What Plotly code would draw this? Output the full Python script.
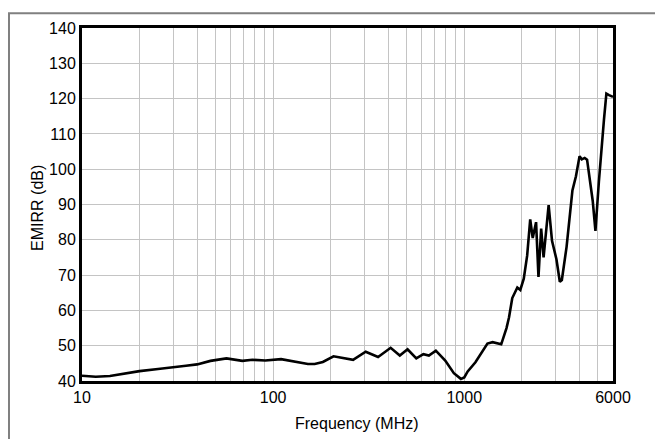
import plotly.graph_objects as go
import math

freq_mhz = [10, 11.8, 14, 16.9, 20, 25, 30, 35, 40, 47, 57, 64, 69, 78, 91, 110, 130, 152, 165, 182,
            207, 244, 262, 305, 354, 412, 460, 505, 561, 611, 653, 710, 795, 882, 960, 1000, 1042,
            1144, 1268, 1322, 1407, 1466, 1561, 1663, 1714, 1783, 1895, 1964, 2048, 2133, 2213,
            2281, 2375, 2445, 2525, 2600, 2763, 2878, 3035, 3162, 3240, 3430, 3680, 3840, 4010,
            4120, 4265, 4390, 4570, 4700, 4856, 5060, 5380, 5540, 5720, 6000]
emirr_db = [41.5, 41.2, 41.4, 42.2, 42.8, 43.4, 44.0, 44.3, 44.7, 45.7, 46.4, 46.1, 45.7, 46.0, 45.8,
            46.2, 45.5, 44.8, 44.8, 45.4, 47.0, 46.3, 46.0, 48.3, 46.8, 49.4, 47.2, 49.0, 46.4, 47.6,
            47.2, 48.6, 45.8, 42.2, 40.6, 41.0, 42.7, 45.3, 48.9, 50.6, 51.0, 50.7, 50.4, 55.0, 58.0,
            63.5, 66.5, 65.8, 69.0, 75.5, 85.8, 80.5, 85.0, 69.5, 83.2, 75.0, 89.8, 79.7, 74.5, 68.1,
            68.6, 78.0, 94.0, 98.0, 103.7, 102.8, 103.2, 102.7, 96.4, 91.0, 82.5, 96.4, 114.0, 121.4,
            121.0, 120.5]

x_grid_vals = [10, 20, 30, 40, 50, 60, 70, 80, 90, 100, 200, 300, 400, 500, 600, 700, 800, 900,
               1000, 2000, 3000, 4000, 5000, 6000]
x_labels = {10: "10", 100: "100", 1000: "1000", 6000: "6000"}
y_ticks = list(range(40, 141, 10))

font_family = "Liberation Sans, Arial, sans-serif"

fig = go.Figure()
fig.add_trace(go.Scatter(x=freq_mhz, y=emirr_db, mode="lines",
                         line=dict(color="black", width=2.6), showlegend=False))

fig.update_layout(
    width=655, height=431,
    margin=dict(l=74, r=50, t=16, b=58),
    paper_bgcolor="white", plot_bgcolor="white",
    font=dict(family=font_family, size=16, color="black"),
    xaxis=dict(type="log", range=[1, math.log10(6000)],
               tickvals=x_grid_vals,
               ticktext=[x_labels.get(v, "") for v in x_grid_vals],
               showgrid=True, gridcolor="#c4c4c4", gridwidth=1,
               showline=True, linecolor="black", linewidth=3, mirror=True,
               ticks="", zeroline=False, tickfont=dict(size=16)),
    yaxis=dict(range=[40, 140], tickvals=y_ticks,
               showgrid=True, gridcolor="#c4c4c4", gridwidth=1,
               showline=True, linecolor="black", linewidth=3, mirror=True,
               ticks="", zeroline=False, tickfont=dict(size=16)),
    annotations=[
        dict(text="Frequency (MHz)", xref="paper", yref="paper",
             x=0.518, y=-0.12, showarrow=False, font=dict(size=16),
             xanchor="center", yanchor="middle"),
        dict(text="EMIRR (dB)", xref="paper", yref="paper",
             x=-0.085, y=0.49, showarrow=False, font=dict(size=16),
             textangle=-90, xanchor="center", yanchor="middle"),
    ],
    shapes=[dict(type="rect", xref="paper", yref="paper",
                 x0=-0.1375, x1=1.3, y0=-0.4, y1=1.042,
                 line=dict(color="#808080", width=2), layer="above")],
)

fig.write_html("out.html")
